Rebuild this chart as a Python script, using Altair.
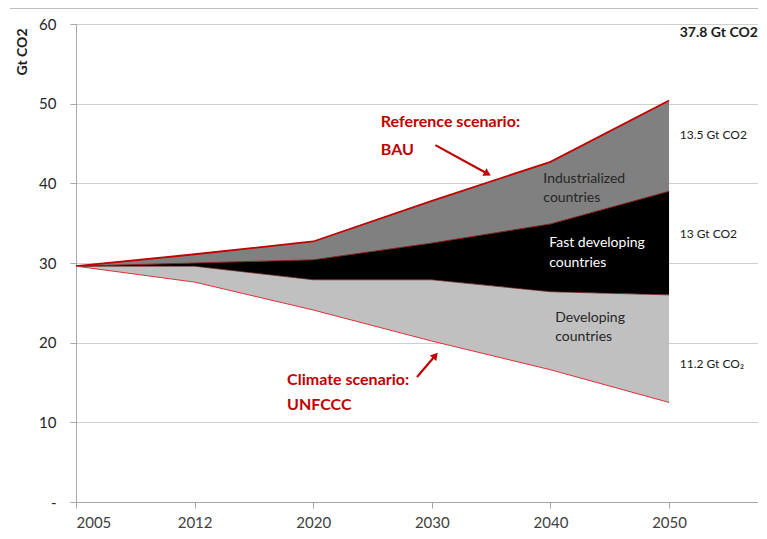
import altair as alt
import pandas as pd

# ---- data ----
years = ["2005", "2012", "2020", "2030", "2040", "2050"]
bau = [29.6, 31.1, 32.7, 37.8, 42.7, 50.4]            # reference scenario (top)
industrial_bottom = [29.6, 30.0, 30.4, 32.5, 34.9, 39.0]
fast_bottom = [29.6, 29.6, 27.9, 27.9, 26.4, 26.0]
climate = [29.6, 27.6, 24.1, 20.2, 16.6, 12.5]        # climate scenario (bottom)

region_labels = ["Industrialized", "countries", "Fast developing", "countries", "Developing", "countries"]
right_labels = ["13.5 Gt CO2", "13 Gt CO2", "11.2 Gt CO\u2082"]
total_label = "37.8 Gt CO2"
red_labels = ["Reference scenario:", "BAU", "Climate scenario:", "UNFCCC"]

idx = list(range(len(years)))
df = pd.DataFrame({
    "i": idx, "year": years, "bau": bau, "ind_b": industrial_bottom,
    "fast_b": fast_bottom, "climate": climate,
})

FONT = "Lato"
RED = "#c00000"
DARKRED = "#8b1f1f"

label_expr = "[" + ",".join(f"'{y}'" for y in years) + "][datum.value]"

xscale = alt.Scale(domain=[0, 5.75], nice=False, zero=False)
yscale = alt.Scale(domain=[0, 60], nice=False)

x_enc = alt.X("i:Q", scale=xscale, axis=alt.Axis(
    values=idx, labelExpr=label_expr, grid=False, title=None,
    domainColor="#a6a6a6", tickColor="#a6a6a6", tickSize=6,
    labelFont=FONT, labelFontSize=15, labelColor="#404040", labelPadding=7))
y_axis = alt.Axis(
    values=[0, 10, 20, 30, 40, 50, 60],
    labelExpr="datum.value == 0 ? '-' : datum.value",
    grid=True, gridColor="#cfcfcf", gridWidth=1,
    domainColor="#a6a6a6", tickColor="#a6a6a6", tickSize=6,
    labelFont=FONT, labelFontSize=15, labelColor="#262626", labelPadding=14,
    title="Gt CO2", titleFont=FONT, titleFontSize=14, titleFontWeight="bold",
    titleColor="#1a1a1a", titleAngle=-90, titleAlign="right", titleBaseline="bottom",
    titleX=-47, titleY=4)

base = alt.Chart(df)

ind_area = base.mark_area(color="#808080", opacity=1).encode(
    x=x_enc, y=alt.Y("bau:Q", scale=yscale, axis=y_axis), y2="ind_b:Q")
fast_area = base.mark_area(color="#000000", opacity=1).encode(
    x="i:Q", y="ind_b:Q", y2="fast_b:Q")
dev_area = base.mark_area(color="#c0c0c0", opacity=1).encode(
    x="i:Q", y="fast_b:Q", y2="climate:Q")

bau_line = base.mark_line(color=RED, strokeWidth=1.8).encode(x="i:Q", y="bau:Q")
ind_line = base.mark_line(color=DARKRED, strokeWidth=1).encode(x="i:Q", y="ind_b:Q")
fast_line = base.mark_line(color="#5a1010", strokeWidth=0.8).encode(x="i:Q", y="fast_b:Q")
clim_line = base.mark_line(color="#e0303a", strokeWidth=1).encode(x="i:Q", y="climate:Q")

# annotation tables (positions in data units)
reg_df = pd.DataFrame({
    "t": region_labels,
    "x": [3.94, 3.94, 3.99, 3.99, 4.04, 4.04],
    "y": [40.6, 38.2, 32.5, 30.0, 23.1, 20.7],
    "c": ["#262626", "#262626", "#ffffff", "#ffffff", "#262626", "#262626"],
})
reg_text = alt.Chart(reg_df).mark_text(
    align="left", baseline="middle", font=FONT, fontSize=14).encode(
    x="x:Q", y="y:Q", text="t:N", color=alt.Color("c:N", scale=None))

right_df = pd.DataFrame({"t": right_labels, "x": [5.09] * 3, "y": [46.1, 33.6, 17.3]})
right_text = alt.Chart(right_df).mark_text(
    align="left", baseline="middle", font=FONT, fontSize=12, color="#1a1a1a").encode(
    x="x:Q", y="y:Q", text="t:N")

total_df = pd.DataFrame({"t": [total_label], "x": [5.09], "y": [58.9]})
total_text = alt.Chart(total_df).mark_text(
    align="left", baseline="middle", font=FONT, fontSize=14, fontWeight="bold",
    color="#1a1a1a").encode(x="x:Q", y="y:Q", text="t:N")

red_df = pd.DataFrame({"t": red_labels, "x": [2.57, 2.57, 1.78, 1.78],
                       "y": [47.7, 44.2, 15.3, 12.2]})
red_text = alt.Chart(red_df).mark_text(
    align="left", baseline="middle", font=FONT, fontSize=16, fontWeight="bold",
    color=RED).encode(x="x:Q", y="y:Q", text="t:N")

arrow_df = pd.DataFrame({"x": [3.03, 2.875], "y": [44.8, 15.7],
                         "x2": [3.47, 3.03], "y2": [41.2, 18.4],
                         "ang": [119.0, 40.0]})
arrow_shaft = alt.Chart(arrow_df).mark_rule(color=RED, strokeWidth=2.2).encode(
    x="x:Q", y="y:Q", x2="x2:Q", y2="y2:Q")
arrow_head = alt.Chart(arrow_df).mark_point(
    shape="triangle-up", filled=True, color=RED, size=70, opacity=1).encode(
    x="x2:Q", y="y2:Q", angle=alt.Angle("ang:Q", scale=None))

frame = alt.Chart(df).mark_rule(color="#bfbfbf", strokeWidth=1).encode(
    x=alt.value(-66), x2=alt.value(682), y=alt.value(-15.5))

chart = alt.layer(
    ind_area, fast_area, dev_area, bau_line, ind_line, fast_line, clim_line,
    reg_text, right_text, total_text, red_text, arrow_shaft, arrow_head, frame
).properties(
    width=682, height=478,
    autosize=alt.AutoSizeParams(type="none"),
    padding={"left": 68, "top": 16, "right": 0, "bottom": 28},
).configure_view(stroke=None).configure(background="#ffffff")

chart.save("out.html", embed_options={"renderer": "svg", "actions": False})
